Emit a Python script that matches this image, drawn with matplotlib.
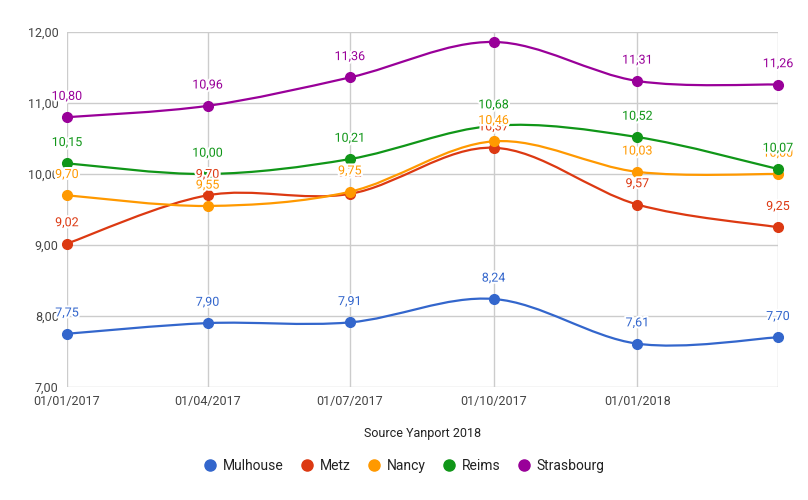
import numpy as np
import matplotlib
matplotlib.use("Agg")
import matplotlib.pyplot as plt
from matplotlib.path import Path
from matplotlib.patches import PathPatch
from matplotlib.lines import Line2D
import matplotlib.patheffects as pe
import datetime as dt

plt.rcParams['font.family'] = ['Roboto', 'DejaVu Sans']

dates = ["01/01/2017", "01/04/2017", "01/07/2017", "01/10/2017", "01/01/2018", "01/04/2018"]
tick_labels = ["01/01/2017", "01/04/2017", "01/07/2017", "01/10/2017", "01/01/2018"]
series_names = ["Mulhouse", "Metz", "Nancy", "Reims", "Strasbourg"]
mulhouse = [7.75, 7.90, 7.91, 8.24, 7.61, 7.70]
metz = [9.02, 9.70, 9.72, 10.37, 9.57, 9.25]
nancy = [9.70, 9.55, 9.75, 10.46, 10.03, 10.00]
reims = [10.15, 10.00, 10.21, 10.68, 10.52, 10.07]
strasbourg = [10.80, 10.96, 11.36, 11.86, 11.31, 11.26]
colors = ["#3366cc", "#dc3912", "#ff9900", "#109618", "#990099"]
values = [mulhouse, metz, nancy, reims, strasbourg]
yticks = [7, 8, 9, 10, 11, 12]

def to_num(s):
    d = dt.datetime.strptime(s, "%d/%m/%Y")
    return (d - dt.datetime(2017, 1, 1)).days

x = np.array([to_num(d) for d in dates], dtype=float)
xt = [to_num(d) for d in tick_labels]

fig = plt.figure(figsize=(8.08, 5.0), dpi=100)
ax = fig.add_axes([67/808, 1-387/500, (778-67)/808, (387-32)/500])
ax.set_xlim(x[0], x[-1])
ax.set_ylim(7, 12)

for s in ax.spines.values():
    s.set_visible(False)
ax.set_yticks(yticks)
ax.set_yticklabels([f"{v:.2f}".replace(".", ",") for v in yticks])
ax.set_xticks(xt)
ax.set_xticklabels(tick_labels)
ax.tick_params(length=0, labelsize=9, colors="#444444", pad=6)
for yv in yticks:
    ax.axhline(yv, color="#cccccc", lw=1, zorder=0)
for xv in list(xt) + [x[-1]]:
    ax.axvline(xv, color="#cccccc", lw=1, zorder=0)

def smooth_path(xs, ys, k=0.5):
    verts = [(xs[0], ys[0])]
    codes = [Path.MOVETO]
    n = len(xs)
    for i in range(n - 1):
        p0 = np.array([xs[max(i-1, 0)], ys[max(i-1, 0)]])
        p1 = np.array([xs[i], ys[i]])
        p2 = np.array([xs[i+1], ys[i+1]])
        p3 = np.array([xs[min(i+2, n-1)], ys[min(i+2, n-1)]])
        c1 = p1 + (p2 - p0) / 6 * (2*k)
        c2 = p2 - (p3 - p1) / 6 * (2*k)
        verts += [tuple(c1), tuple(c2), tuple(p2)]
        codes += [Path.CURVE4] * 3
    return Path(verts, codes)

halo = [pe.withStroke(linewidth=3, foreground="white")]
for idx, (name, vals, c) in enumerate(zip(series_names, values, colors)):
    path = smooth_path(x, vals)
    ax.add_patch(PathPatch(path, fill=False, edgecolor=c, lw=1.6, zorder=3))
    ax.plot(x, vals, 'o', color=c, ms=7, zorder=4, clip_on=False)
    for xi, v in zip(x, vals):
        if v + 0.28 > 12:
            continue
        ax.annotate(f"{v:.2f}".replace(".", ","), (xi, v), xytext=(0, 15),
                    textcoords="offset points", ha="center", va="center",
                    fontsize=9, color=c, zorder=5 + idx * 0.01, annotation_clip=False,
                    path_effects=halo)

fig.text(422.5/808, 1-433/500, "Source Yanport 2018", ha="center", va="center",
         fontsize=9, color="#222222")

handles = [Line2D([], [], marker='o', ls='', color=c, ms=8) for c in colors]
fig.legend(handles, series_names, loc="center", bbox_to_anchor=(404/808, 1-466/500),
           ncol=5, frameon=False, fontsize=10, handletextpad=0.4, columnspacing=1.2,
           labelcolor="#222222", handlelength=1.0)

fig.savefig("out.png", dpi=100)
